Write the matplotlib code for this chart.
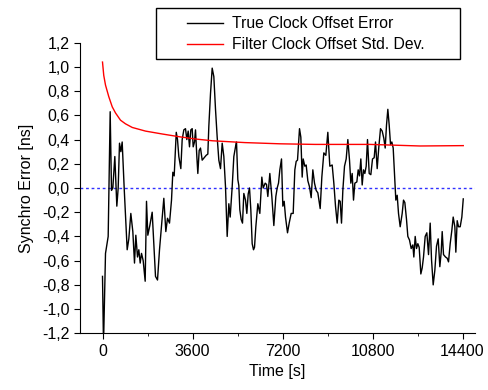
import matplotlib
matplotlib.use("Agg")
import matplotlib.pyplot as plt
from matplotlib.patches import Rectangle

plt.rcParams['font.family'] = ['Liberation Sans', 'DejaVu Sans']

# true clock offset error (time in s, error in ns)
time_s = [0, 40, 120, 227, 307, 360, 413, 493, 573, 627, 680, 733, 787, 867,
          987, 1053, 1133, 1213, 1280, 1333, 1400, 1453, 1507, 1560, 1627, 1707,
          1760, 1813, 1893, 1987, 2067, 2120, 2200, 2280, 2360, 2453, 2533, 2600,
          2680, 2760, 2813, 2867, 2950, 3000, 3053, 3133, 3187, 3253, 3320, 3373,
          3427, 3480, 3533, 3587, 3627, 3680, 3720, 3773, 3813, 3867, 3920, 3987,
          4067, 4147, 4213, 4253, 4320, 4387, 4453, 4520, 4587, 4653, 4720, 4787,
          4853, 4920, 4987, 5053, 5107, 5187, 5253, 5320, 5360, 5413, 5453, 5493,
          5547, 5600, 5653, 5720, 5773, 5827, 5880, 5933, 5987, 6040, 6080, 6133,
          6213, 6293, 6373, 6427, 6507, 6560, 6613, 6693, 6773, 6853, 6933, 6987,
          7040, 7093, 7160, 7213, 7267, 7320, 7400, 7467, 7547, 7627, 7693, 7747,
          7800, 7880, 7933, 7987, 8027, 8093, 8147, 8213, 8280, 8347, 8413, 8480,
          8547, 8613, 8707, 8773, 8853, 8933, 9013, 9093, 9187, 9253, 9320, 9387,
          9453, 9507, 9560, 9613, 9680, 9747, 9813, 9880, 9933, 9987, 10040, 10093,
          10173, 10227, 10280, 10333, 10387, 10440, 10493, 10547, 10600, 10667,
          10733, 10800, 10867, 10920, 10987, 11053, 11120, 11187, 11253, 11307,
          11360, 11413, 11467, 11520, 11573, 11627, 11680, 11733, 11787, 11840,
          11907, 11987, 12040, 12093, 12160, 12213, 12280, 12347, 12413, 12453,
          12507, 12560, 12613, 12667, 12733, 12787, 12840, 12907, 12973, 13040,
          13107, 13160, 13227, 13293, 13360, 13427, 13493, 13547, 13587, 13640,
          13720, 13787, 13840, 13907, 13973, 14027, 14093, 14133, 14187, 14240,
          14307, 14373, 14430]
offset_ns = [-0.73, -1.3, -0.54, -0.40, 0.63, -0.02, 0.0, 0.26, -0.15, 0.0, 0.37, 0.30, 0.38, 0.0,
             -0.51, -0.42, -0.21, -0.36, -0.62, -0.39, -0.57, -0.51, -0.62, -0.54, -0.60, -0.77,
             -0.11, -0.39, -0.31, -0.20, -0.51, -0.73, -0.76, -0.51, -0.31, -0.085, -0.36, -0.25,
             -0.29, -0.10, 0.13, 0.10, 0.46, 0.40, 0.26, 0.16, 0.40, 0.48, 0.49, 0.40,
             0.47, 0.34, 0.48, 0.49, 0.34, 0.38, 0.48, 0.26, 0.12, 0.31, 0.33, 0.23,
             0.25, 0.27, 0.28, 0.51, 0.78, 0.99, 0.92, 0.65, 0.42, 0.23, 0.16, 0.37,
             0.26, 0.01, -0.40, -0.13, -0.24, 0.01, 0.26, 0.34, 0.38, 0.07, 0.02, -0.18,
             -0.26, -0.29, -0.045, -0.10, -0.21, -0.05, 0.0, -0.18, -0.46, -0.51, -0.49, -0.32,
             -0.13, -0.21, 0.09, 0.0, 0.04, 0.03, -0.07, 0.12, -0.07, -0.31, -0.07, 0.0,
             0.04, 0.15, 0.24, -0.15, -0.11, -0.24, -0.37, -0.29, -0.21, -0.21, 0.15, 0.22,
             0.23, 0.49, 0.42, 0.09, 0.24, 0.18, 0.19, 0.06, 0.01, -0.08, 0.15, 0.04,
             -0.02, -0.04, -0.17, 0.09, 0.29, 0.27, 0.46, 0.18, 0.19, 0.04, -0.15, -0.29,
             -0.10, -0.11, -0.29, -0.02, 0.18, 0.24, 0.40, 0.23, 0.04, 0.12, -0.10, 0.04,
             0.05, 0.15, 0.10, 0.24, 0.025, 0.15, 0.12, 0.18, 0.40, 0.12,
             0.11, 0.24, 0.25, 0.38, 0.16, 0.34, 0.49, 0.47, 0.41, 0.33,
             0.52, 0.65, 0.52, 0.36, 0.38, 0.33, 0.12, -0.10, -0.06, -0.21,
             -0.32, -0.21, -0.10, -0.12, -0.26, -0.40, -0.43, -0.50, -0.47, -0.57,
             -0.40, -0.50, -0.46, -0.49, -0.71, -0.66, -0.57, -0.40, -0.37, -0.55,
             -0.29, -0.59, -0.80, -0.68, -0.48, -0.42, -0.65, -0.53, -0.36, -0.55,
             -0.57, -0.58, -0.61, -0.46, -0.35, -0.24, -0.32, -0.53, -0.27, -0.32,
             -0.32, -0.24, -0.09]

# filter std. dev.
std_time_s = [0, 50, 120, 250, 390, 520, 720, 920, 1190, 1720, 2390, 3050, 3700, 4400,
              5700, 7100, 8500, 10700, 12700, 14430]
std_ns = [1.04, 0.93, 0.85, 0.755, 0.67, 0.62, 0.56, 0.53, 0.50, 0.47, 0.446, 0.424, 0.405, 0.39,
          0.375, 0.365, 0.36, 0.36, 0.347, 0.35]

x_ticks = [0, 3600, 7200, 10800, 14400]
y_ticks = [1.2, 1.0, 0.8, 0.6, 0.4, 0.2, 0.0, -0.2, -0.4, -0.6, -0.8, -1.0, -1.2]
y_labels = ["1,2", "1,0", "0,8", "0,6", "0,4", "0,2", "0,0", "-0,2", "-0,4", "-0,6", "-0,8", "-1,0", "-1,2"]

fig = plt.figure(figsize=(4.89, 3.9), dpi=100)
ax = fig.add_axes([0.1636, 0.1454, 0.8078, 0.7451])

ax.axhline(0, color="#3030ff", lw=1, linestyle=(0, (2, 2)))
l1, = ax.plot(time_s, offset_ns, color="black", lw=1, label="True Clock Offset Error")
l2, = ax.plot(std_time_s, std_ns, color="red", lw=1, label="Filter Clock Offset Std. Dev.")

ax.set_xlim(-900, 14900)
ax.set_ylim(-1.2, 1.2)
ax.set_xticks(x_ticks)
ax.set_xticks([1800, 5400, 9000, 12600], minor=True)
ax.set_yticks(y_ticks)
ax.set_yticklabels(y_labels)
ax.tick_params(labelsize=11.5, length=4, direction="out")
ax.tick_params(which="minor", length=2.5)
ax.spines["top"].set_visible(False)
ax.spines["right"].set_visible(False)
ax.set_xlabel("Time [s]", fontsize=11.5, labelpad=4)
ax.set_ylabel("Synchro Error [ns]", fontsize=11.5, labelpad=6)

# legend sits above the plot in a wide box
fig.legend(handles=[l1, l2], loc="upper left", bbox_to_anchor=(0.382, 0.958),
           frameon=False, fontsize=11.3, borderpad=0, borderaxespad=0,
           handlelength=2.3, handletextpad=0.55, labelspacing=0.38)
fig.patches.append(Rectangle((0.320, 0.850), 0.621, 0.130, transform=fig.transFigure,
                             fill=False, edgecolor="black", lw=1))

fig.savefig("out.png", dpi=100)
